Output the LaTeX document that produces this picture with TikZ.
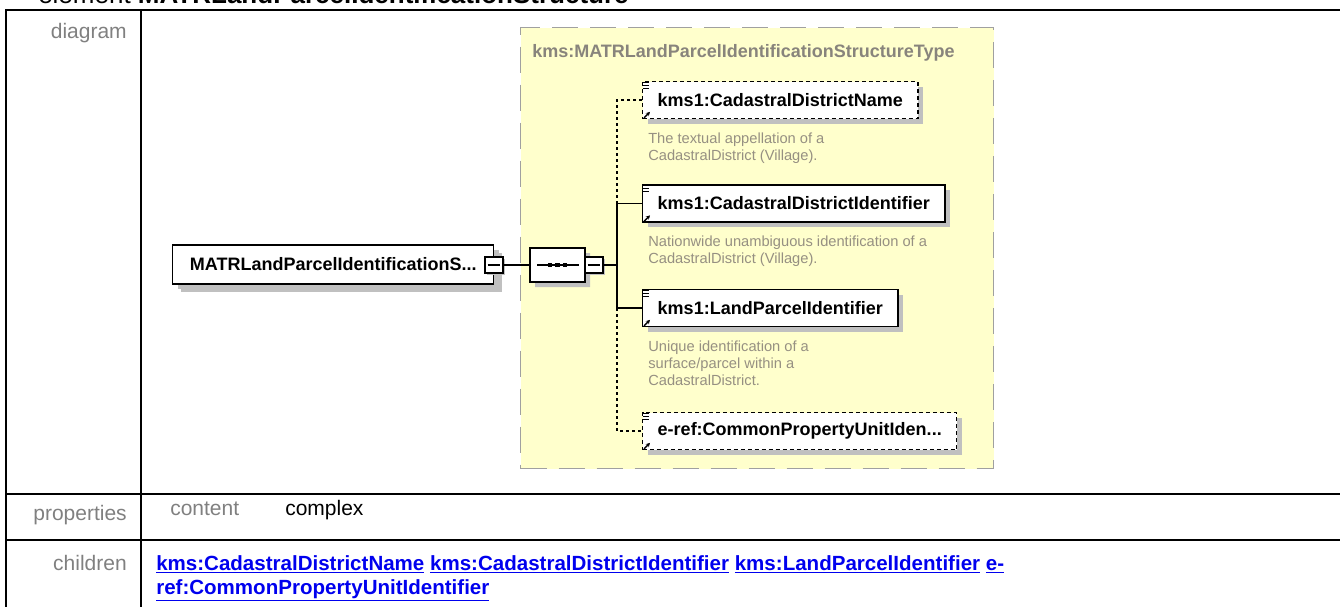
\documentclass[tikz,border=0pt]{standalone}
\usepackage{fontspec}
\setmainfont{Liberation Sans}
\usetikzlibrary{arrows.meta, positioning, shapes.misc, shadows}
\definecolor{xsgray}{RGB}{128,128,128}
\definecolor{xsyellow}{RGB}{255,255,204}
\definecolor{xsborder}{RGB}{160,160,160}
\definecolor{xsshadow}{RGB}{192,192,192}
\definecolor{xsnote}{RGB}{150,144,130}
\definecolor{xstitle}{RGB}{136,132,124}
\definecolor{xslink}{RGB}{0,0,238}

\begin{document}
\begin{tikzpicture}[
    x=0.75pt, y=-0.75pt,
    rowlabel/.style={font=\fontsize{15.75}{18}\selectfont, text=xsgray, inner sep=0},
    gridline/.style={line width=1.5pt, black},
    boxshadow/.style={drop shadow={shadow xshift=#1, shadow yshift=-#1, fill=xsshadow, opacity=1}},
    elem/.style={draw=black, line width=1.1pt, fill=white, boxshadow=3.75pt,
                 font=\fontsize{13.5}{16}\selectfont\bfseries, inner xsep=11.25pt,
                 minimum height=27.75pt, anchor=west},
    optelem/.style={elem, dash pattern=on 3pt off 2.25pt},
    minusbox/.style={draw=black, line width=0.9pt, fill=white, boxshadow=1.5pt,
                     minimum width=13.5pt, minimum height=12pt, inner sep=0},
    seqbox/.style={chamfered rectangle, chamfered rectangle xsep=6.75pt, draw=black,
                   line width=0.9pt, fill=white, boxshadow=3.75pt,
                   minimum width=41.25pt, minimum height=25.5pt, inner sep=0},
    typebox/.style={draw=xsborder, fill=xsyellow, line width=1.1pt,
                    dash pattern=on 19.5pt off 9pt, inner sep=0, anchor=north west},
    typetitle/.style={font=\fontsize{13.5}{16}\selectfont\bfseries, text=xstitle, inner sep=0},
    note/.style={font=\fontsize{11}{12.75}\selectfont, text=xsnote, align=left, inner sep=0},
    childlink/.style={font=\fontsize{15.4}{18}\selectfont\bfseries, text=xslink,
                      inner sep=0, anchor=base west},
    conn/.style={line width=0.9pt, black},
    optconn/.style={conn, dash pattern=on 2.25pt off 2.25pt}
  ]
    \useasboundingbox (0,0) rectangle (1340,607);
    \clip (0,0) rectangle (1340,607);

    \node[anchor=base west, inner sep=0, font=\fontsize{19.5}{22}\selectfont] (hdr) at (38,3)
      {element \textbf{MATRLandParcelIdentificationStructure}};

    \draw[gridline] (6,607) -- (6,9.5) -- (1340,9.5);
    \draw[gridline] (141,9.5) -- (141,607);
    \draw[gridline] (6,494) -- (1340,494);
    \draw[gridline] (6,540) -- (1340,540);

    \node[rowlabel, anchor=base east] (ldiag)  at (127,38)  {diagram};
    \node[rowlabel, anchor=base east] (lprop)  at (127,520) {properties};
    \node[rowlabel, anchor=base east] (lchild) at (127,570) {children};

    \node[rowlabel, anchor=base west] (pcont) at (170,515) {content};
    \node[rowlabel, anchor=base west, text=black] (pval) at (285,515) {complex};

    \node[childlink] (k1) at (156,570) {\underline{kms:CadastralDistrictName}
      \underline{kms:CadastralDistrictIdentifier} \underline{kms:LandParcelIdentifier}
      \underline{e-}};
    \node[childlink] (k2) at (156,594) {\underline{ref:CommonPropertyUnitIdentifier}};

    \node[typebox, minimum width=354.75pt, minimum height=330.75pt] (tbox) at (520,27) {};
    \node[typetitle, below right=13pt and 9pt of tbox.north west] (ttl)
      {kms:MATRLandParcelIdentificationStructureType};

    \node[elem, boxshadow=6pt, minimum width=240.75pt, minimum height=29.25pt] (main)
      at (172,264.5) {MATRLandParcelIdentificationS...};
    \node[minusbox] (emin) at (494,265) {};
    \node[seqbox] (seq) at (557.5,265) {};
    \node[minusbox] (smin) at (594,265) {};

    \node[optelem] (c1) at (642,100) {kms1:CadastralDistrictName};
    \node[elem]    (c2) at (642,203.5) {kms1:CadastralDistrictIdentifier};
    \node[elem]    (c3) at (642,308) {kms1:LandParcelIdentifier};
    \node[optelem] (c4) at (642,431) {e-ref:CommonPropertyUnitIden...};

    \node[note, below right=9.75pt and 4.5pt of c1.south west] (n1)
      {The textual appellation of a\\CadastralDistrict (Village).};
    \node[note, below right=9.75pt and 4.5pt of c2.south west] (n2)
      {Nationwide unambiguous identification of a\\CadastralDistrict (Village).};
    \node[note, below right=9.75pt and 4.5pt of c3.south west] (n3)
      {Unique identification of a\\surface/parcel within a\\CadastralDistrict.};

    \foreach \m in {emin,smin}
      \draw[conn] ([xshift=2.5pt]\m.west) -- ([xshift=-2.5pt]\m.east);
    \draw[line width=1.2pt] ([xshift=6pt]seq.west) -- ([xshift=-5.25pt]seq.east);
    \foreach \dx in {-5.6,0,5.6}
      \fill ([xshift=\dx pt]seq.center) +(-1.7pt,-1.7pt) rectangle +(1.7pt,1.7pt);

    \foreach \c in {c1,c2,c3,c4} {
      \foreach \dy in {1,3.25,5.5}
        \draw[line width=0.6pt] ([xshift=1pt,yshift=-\dy pt]\c.north west) -- ++(4pt,0);
      \draw[line width=1pt, -{Stealth[length=3pt,width=3.2pt]}]
        ([xshift=1.5pt,yshift=1pt]\c.south west) -- ++(4.5pt,4.5pt);
    }

    \coordinate (spine) at (617,265);
    \draw[conn] (emin.east) -- (seq.west);
    \draw[conn] (smin.east) -- (spine);
    \draw[optconn] (c1.west) -- (c1.west -| spine) -- (c2.west -| spine);
    \draw[conn] (c2.west) -- (c2.west -| spine) -- (c3.west -| spine) -- (c3.west);
    \draw[optconn] (c3.west -| spine) -- (c4.west -| spine) -- (c4.west);
  \end{tikzpicture}
\end{document}
